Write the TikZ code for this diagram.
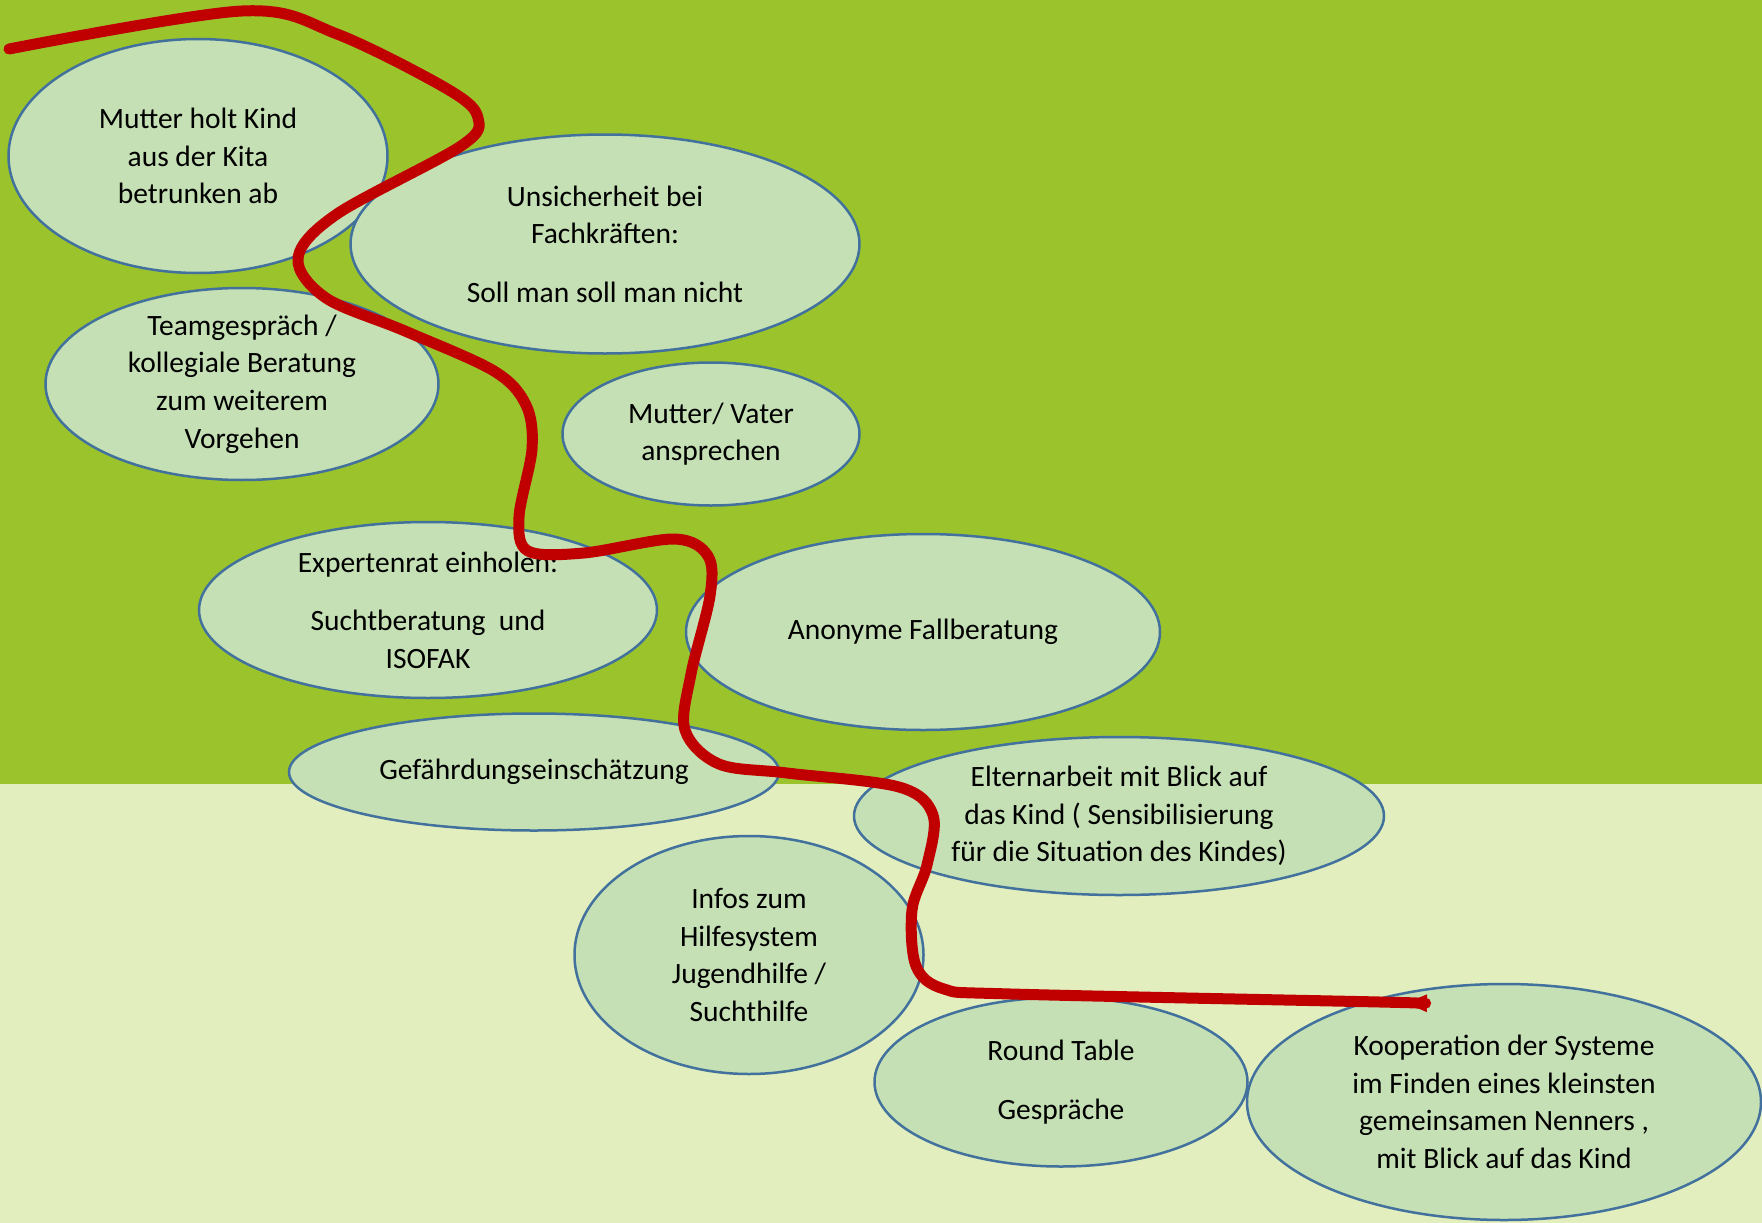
\documentclass[tikz,border=0pt]{standalone}
\usepackage{fontspec}
\setmainfont{Carlito}
\usetikzlibrary{shapes.geometric,arrows.meta}

\definecolor{wiese}{RGB}{155,196,44}
\definecolor{boden}{RGB}{227,238,190}
\definecolor{blase}{RGB}{197,224,180}
\definecolor{rand}{RGB}{65,113,156}
\definecolor{faden}{RGB}{192,0,0}

\tikzset{
  bubble/.style={ellipse, draw=rand, line width=2.5pt, fill=blase, inner sep=0pt},
  txt/.style={align=center, font=\fontsize{29.5}{37.6}\selectfont, inner sep=0pt},
  redline/.style={draw=faden, line width=11pt, line cap=round, line join=round}
}

\begin{document}
\begin{tikzpicture}[x=1pt, y=-1pt]
% background
\fill[wiese] (0,0) rectangle (1762,784);
\fill[boden] (0,784) rectangle (1762,1223);
\useasboundingbox (0,0) rectangle (1762,1223);

% ellipses
\node[bubble, minimum width=379, minimum height=234] (kita) at (198,156) {};
\node[txt] at (kita) {Mutter holt Kind\\aus der Kita\\betrunken ab};

\node[bubble, minimum width=509, minimum height=219] (unsicher) at (605,244) {};
\node[txt] at (unsicher) {Unsicherheit bei\\Fachkräften:\\[21pt]Soll man soll man nicht};

\node[bubble, minimum width=393, minimum height=192] (team) at (242,384) {};
\node[txt] at (team) {Teamgespräch /\\kollegiale Beratung\\zum weiterem\\Vorgehen};

\node[bubble, minimum width=297, minimum height=143] (eltern) at (711,434) {};
\node[txt] at (eltern) {Mutter/ Vater\\ansprechen};

\node[bubble, minimum width=458, minimum height=176] (experten) at (428,610) {};
\node[txt] at (experten) {Expertenrat einholen:\\[21pt]Suchtberatung\ \ und\\ISOFAK};

\node[bubble, minimum width=474, minimum height=196] (anonym) at (923,632) {};
\node[txt] at (anonym) {Anonyme Fallberatung};

\node[bubble, minimum width=490, minimum height=117] (gefahr) at (534,772) {};
\node[txt] at (gefahr) {Gefährdungseinschätzung};

\node[bubble, minimum width=530, minimum height=158] (elternarbeit) at (1119,816) {};
\node[txt] at (elternarbeit) {Elternarbeit mit Blick auf\\das Kind ( Sensibilisierung\\für die Situation des Kindes)};

\node[bubble, minimum width=349, minimum height=238] (infos) at (749,955) {};
\node[txt] at (infos) {Infos zum\\Hilfesystem\\Jugendhilfe /\\Suchthilfe};

\node[bubble, minimum width=373, minimum height=169] (round) at (1061,1082) {};
\node[txt] at (round) {Round Table\\[21pt]Gespräche};

\node[bubble, minimum width=514, minimum height=236] (koop) at (1504,1102) {};
\node[txt] at (koop) {Kooperation der Systeme\\im Finden eines kleinsten\\gemeinsamen Nenners ,\\mit Blick auf das Kind};

% red thread
\draw[redline, -{Triangle[length=22pt,width=16pt]}] plot[smooth, tension=0.55] coordinates {
  (9,49) (242,11) (337,34) (449,90) (478,118) (461,146) (337,214) (298,258)
  (326,298) (405,331) (494,371) (526,405) (532,449) (519,517) (528,551)
  (584,553) (674,539) (708,556) (710,596) (691,674) (685,730) (719,764)
  (787,773) (899,787) (933,815) (927,865) (912,910) (916,966) (944,989)
  (1011,994) (1380,1002) (1405,1003)};
\end{tikzpicture}
\end{document}
